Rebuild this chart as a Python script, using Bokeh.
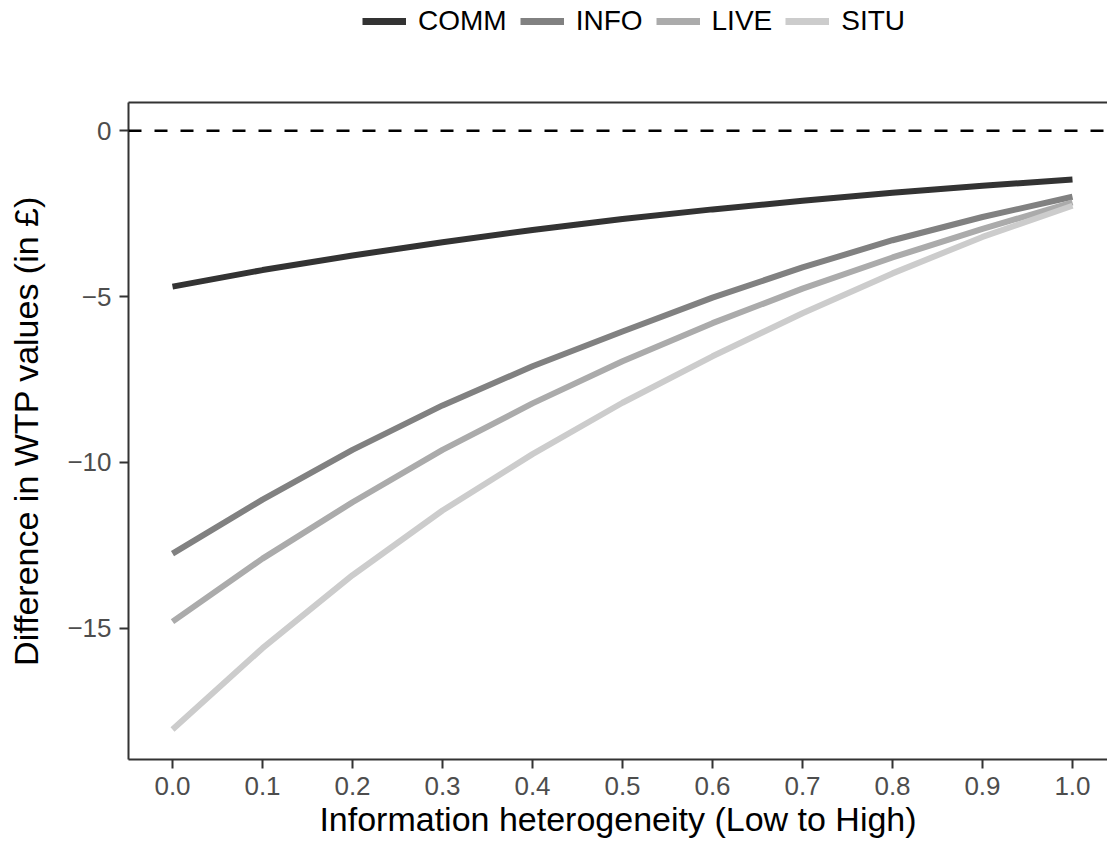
from bokeh.plotting import figure
from bokeh.layouts import column
from bokeh.models import (Range1d, FixedTicker, LinearAxis, Legend, LegendItem, Span)
from bokeh.embed import file_html
from bokeh.resources import INLINE

# ---- data ----
x_vals = [0.0, 0.1, 0.2, 0.3, 0.4, 0.5, 0.6, 0.7, 0.8, 0.9, 1.0]
comm = [-4.70, -4.20, -3.76, -3.36, -2.99, -2.66, -2.37, -2.11, -1.87, -1.66, -1.47]
info = [-12.75, -11.12, -9.62, -8.28, -7.10, -6.05, -5.03, -4.12, -3.30, -2.60, -1.99]
live = [-14.80, -12.90, -11.20, -9.62, -8.22, -6.95, -5.80, -4.76, -3.82, -2.96, -2.16]
situ = [-18.05, -15.60, -13.40, -11.45, -9.75, -8.20, -6.80, -5.50, -4.30, -3.20, -2.26]
series_names = ["COMM", "INFO", "LIVE", "SITU"]
series_colors = ["#333333", "#818181", "#ABABAB", "#CCCCCC"]
x_ticks = [0.0, 0.1, 0.2, 0.3, 0.4, 0.5, 0.6, 0.7, 0.8, 0.9, 1.0]
x_tick_labels = ["0.0", "0.1", "0.2", "0.3", "0.4", "0.5", "0.6", "0.7", "0.8", "0.9", "1.0"]
y_ticks = [0, -5, -10, -15]
y_tick_labels = ["0", "\u22125", "\u221210", "\u221215"]
ref_level = 0

FONT = "Liberation Sans"
AX = "#333333"
LEG_H = 60
NAN = float("nan")

# ---- legend strip (frame is aligned with the main plot's frame, left edge at x=128) ----
lg = figure(width=1107, height=LEG_H, x_range=Range1d(0, 1), y_range=Range1d(0, 1),
            x_axis_type=None, y_axis_type=None, toolbar_location=None,
            output_backend="svg", min_border=0)
lg.outline_line_color = None
lg.xgrid.visible = False
lg.ygrid.visible = False
lg_renderers = []
for name, col in zip(series_names, series_colors):
    lg_renderers.append(lg.line(x=[NAN], y=[NAN], line_color=col, line_width=7, line_cap="butt"))
legend = Legend(items=[LegendItem(label=n, renderers=[r]) for n, r in zip(series_names, lg_renderers)],
                orientation="horizontal", location=(234, 23),
                glyph_width=44, glyph_height=28, label_standoff=12, spacing=13,
                padding=0, margin=0, border_line_color=None, background_fill_alpha=0,
                label_text_font=FONT, label_text_font_size="28px", label_text_color="black")
lg.add_layout(legend)

# ---- main plot ----
p = figure(width=1107, height=845 - LEG_H,
           x_range=Range1d(-0.0489, 1.0389), y_range=Range1d(-18.957, 0.853),
           min_border_left=128, min_border_right=0, min_border_top=102 - LEG_H, min_border_bottom=86,
           toolbar_location=None, output_backend="svg")
p.outline_line_color = None
p.xgrid.visible = False
p.ygrid.visible = False
p.background_fill_color = "white"
p.border_fill_color = "white"

p.add_layout(Span(location=ref_level, dimension="width", line_color="black",
                  line_width=2.5, line_dash="13 13"))

for name, vals, col in zip(series_names, [comm, info, live, situ], series_colors):
    p.line(x_vals, vals, line_color=col, line_width=6, line_cap="butt")

for ax in [p.xaxis[0], p.yaxis[0]]:
    ax.axis_line_color = AX
    ax.axis_line_width = 2
    ax.major_tick_line_color = AX
    ax.major_tick_line_width = 2
    ax.major_tick_out = 9
    ax.major_tick_in = 0
    ax.minor_tick_line_color = None
    ax.major_label_text_font = FONT
    ax.major_label_text_font_size = "26px"
    ax.major_label_text_color = "#4D4D4D"
    ax.axis_label_text_font = FONT
    ax.axis_label_text_font_size = "34px"
    ax.axis_label_text_font_style = "normal"
    ax.axis_label_text_color = "black"

p.xaxis.ticker = FixedTicker(ticks=x_ticks)
p.xaxis.major_label_overrides = {t: l for t, l in zip(x_ticks, x_tick_labels)}
p.xaxis.axis_label = "Information heterogeneity (Low to High)"
p.xaxis.major_label_standoff = 8
p.xaxis.axis_label_standoff = 2

p.yaxis.ticker = FixedTicker(ticks=y_ticks)
p.yaxis.major_label_overrides = {t: l for t, l in zip(y_ticks, y_tick_labels)}
p.yaxis.axis_label = "Difference in WTP values (in \u00a3)"
p.yaxis.major_label_standoff = 8
p.yaxis.axis_label_standoff = 19

top = LinearAxis(ticker=FixedTicker(ticks=[]), major_label_text_font_size="0px",
                 axis_line_color=AX, axis_line_width=2, major_tick_line_color=None,
                 minor_tick_line_color=None)
p.add_layout(top, "above")

layout = column(lg, p, spacing=0)
open("out.html", "w").write(file_html(layout, INLINE))
